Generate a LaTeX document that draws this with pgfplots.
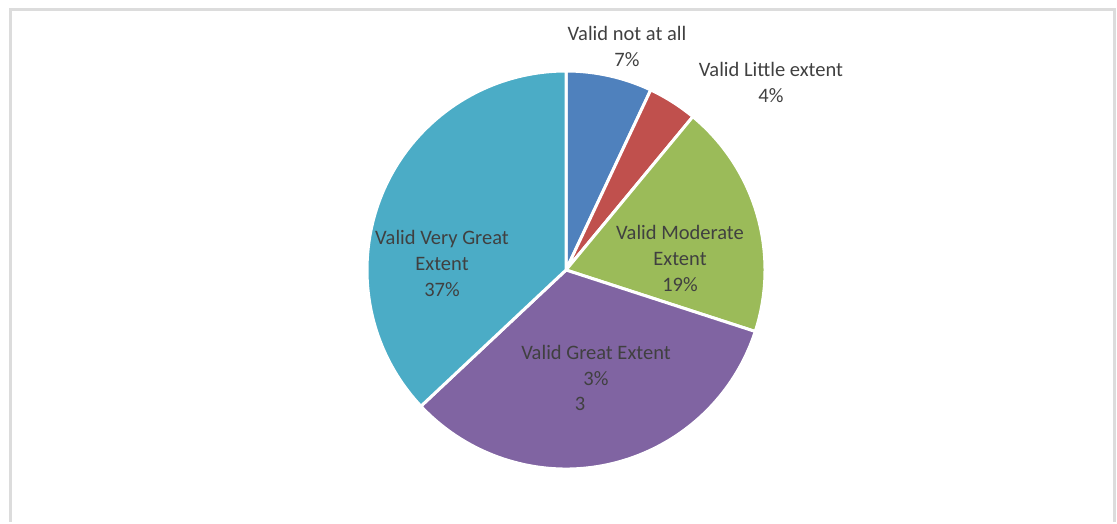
\documentclass[border=0pt]{standalone}
\usepackage{pgfplots}
\usepackage{pgfplotstable}
\pgfplotsset{compat=1.18}
\usepackage{fontspec}
\setmainfont{Carlito}

\definecolor{cBlue}{HTML}{4F81BD}
\definecolor{cRed}{HTML}{C0504D}
\definecolor{cGreen}{HTML}{9BBB59}
\definecolor{cPurple}{HTML}{8064A2}
\definecolor{cTeal}{HTML}{4BACC6}
\definecolor{lbl}{HTML}{404040}
\definecolor{frame}{HTML}{DCDCDC}

\tikzset{lab/.style={align=center, text=lbl, font=\fontsize{20.5}{26}\selectfont, inner sep=0pt}}

% pie shares in percent, clockwise from 12 o'clock
\pgfplotstableread{
value color
7 cBlue
4 cRed
19 cGreen
33 cPurple
37 cTeal
}\piedata

\def\cx{566}
\def\cy{254}
\def\R{199}

\begin{document}
\begin{tikzpicture}
\begin{axis}[
    hide axis,
    scale only axis,
    width=1117pt, height=524pt,
    xmin=0, xmax=1117,
    ymin=0, ymax=524,
    clip=false,
]

% page extent and chart frame
\path (axis cs:0,0) rectangle (axis cs:1117,524);
\draw[frame, line width=3pt] (axis cs:10,2) -- (axis cs:10,514) -- (axis cs:1114,514) -- (axis cs:1114,2);

% slices
\def\angleA{90}
\pgfplotsforeachungrouped \i in {0,...,4}{%
  \pgfplotstablegetelem{\i}{value}\of\piedata \let\v\pgfplotsretval
  \pgfplotstablegetelem{\i}{color}\of\piedata \let\c\pgfplotsretval
  \pgfmathsetmacro\angleB{\angleA-3.6*\v}
  \edef\temp{\noexpand\filldraw[fill=\c, draw=white, line width=3pt, line join=round]
    (axis cs:\cx,\cy) -- ++(\angleA:\R pt)
    arc[start angle=\angleA, end angle=\angleB, radius=\R pt] -- cycle;}
  \temp
  \let\angleA\angleB
}

% data labels
\node[lab] at (axis cs:627,478) {Valid not at all\\7\%};
\node[lab] at (axis cs:771,442) {Valid Little extent\\4\%};
\node[lab] at (axis cs:680,266) {Valid Moderate\\Extent\\19\%};
\node[lab] at (axis cs:442,261) {Valid Very Great\\Extent\\37\%};
\node[lab] at (axis cs:596,159) {Valid Great Extent\\3\%};
\node[lab] at (axis cs:580,120) {3};

\end{axis}
\end{tikzpicture}
\end{document}
